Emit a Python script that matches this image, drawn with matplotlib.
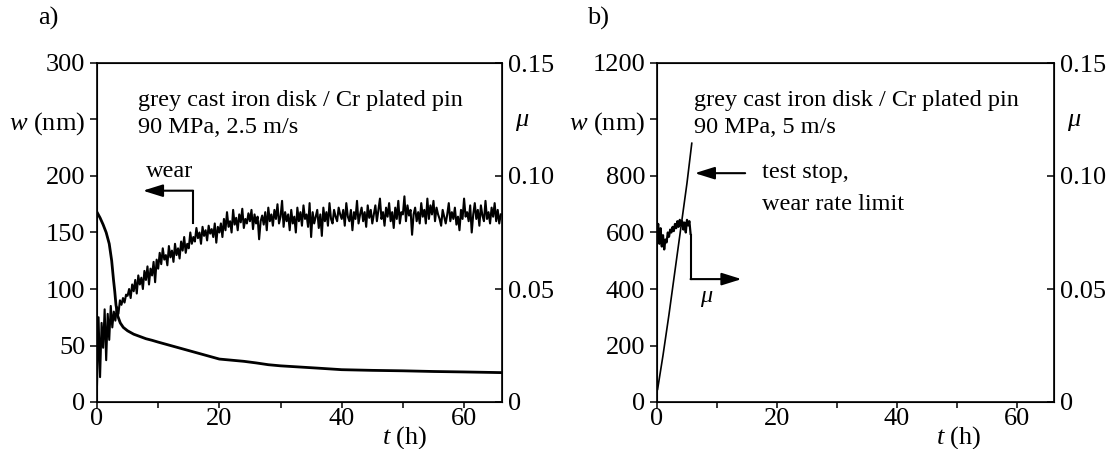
import numpy as np
import matplotlib
matplotlib.use("Agg")
import matplotlib.pyplot as plt

plt.rcParams['font.family'] = ['Liberation Serif', 'DejaVu Serif']
plt.rcParams['mathtext.fontset'] = 'custom'
plt.rcParams['mathtext.rm'] = 'Liberation Serif'
plt.rcParams['mathtext.it'] = 'Liberation Serif:italic'
plt.rcParams['font.size'] = 17.5
plt.rcParams['xtick.labelsize'] = 19
plt.rcParams['ytick.labelsize'] = 19

# DATA - panel a (2.5 m/s), wear read every 0.25 h
t_wear_a = np.arange(0, 66.01, 0.25)
wear_a = [
    15, 75, 22, 70, 48, 82, 37, 78, 55, 85, 66, 80, 72, 84, 78, 90, 86, 92, 88, 95,
    94, 100, 92, 104, 98, 108, 96, 112, 104, 110, 100, 116, 108, 120, 104, 118, 112, 124, 106, 126,
    118, 132, 122, 136, 126, 130, 121, 138, 128, 134, 124, 140, 130, 136, 127, 142, 134, 146, 132, 140,
    136, 150, 140, 146, 142, 154, 145, 150, 140, 155, 147, 152, 143, 156, 149, 153, 146, 158, 141, 155,
    150, 158, 146, 162, 152, 168, 155, 160, 150, 170, 157, 163, 152, 166, 159, 171, 154, 162, 158, 167,
    160, 170, 153, 166, 158, 164, 144, 160, 165, 157, 168, 152, 172, 160, 166, 156, 170, 162, 175, 158,
    164, 178, 155, 168, 160, 166, 152, 170, 158, 164, 150, 172, 160, 168, 156, 174, 162, 166, 155, 176,
    146, 168, 158, 164, 170, 154, 166, 147, 172, 160, 168, 156, 176, 162, 158, 170, 164, 160, 172, 166,
    162, 170, 156, 176, 164, 160, 170, 152, 168, 162, 178, 158, 166, 172, 160, 168, 155, 174, 163, 170,
    158, 166, 174, 160, 170, 180, 162, 168, 156, 172, 164, 176, 160, 168, 154, 172, 162, 178, 158, 168,
    166, 182, 160, 174, 165, 170, 148, 166, 172, 160, 168, 158, 176, 164, 170, 158, 180, 162, 174, 166,
    178, 160, 172, 166, 162, 156, 170, 164, 158, 166, 176, 160, 168, 162, 172, 157, 164, 152, 170, 162,
    180, 164, 168, 160, 174, 150, 166, 176, 162, 170, 156, 174, 165, 160, 178, 162, 168, 158, 172, 164,
    176, 160, 170, 158, 166,
]

t_mu_a = [0, 0.5, 1.0, 1.5, 2.0, 2.4, 2.7, 2.9, 3.1, 3.4, 3.8, 4.3, 5, 6, 7, 8, 9,
          10, 12, 14, 16, 18, 20, 22, 24, 26, 28, 30, 33, 36, 40, 45, 50, 55, 60, 66.2]
mu_a = [0.084, 0.0815, 0.0785, 0.075, 0.070, 0.0625, 0.054, 0.049, 0.043, 0.038,
        0.035, 0.033, 0.0315, 0.030, 0.029, 0.028, 0.0273, 0.0265, 0.025, 0.0235,
        0.022, 0.0205, 0.019, 0.0185, 0.018, 0.0173, 0.0165, 0.016, 0.0155, 0.015,
        0.0143, 0.014, 0.0138, 0.0135, 0.0133, 0.013]

# DATA - panel b (5 m/s), test stopped at ~5.8 h
t_wear_b = [0.1, 1, 2, 3, 4, 5, 5.8]
wear_b = [45, 165, 310, 465, 620, 775, 916]

t_mu_b = np.arange(0, 5.61, 0.2)
mu_b = [0.075, 0.0788, 0.070, 0.0769, 0.0688, 0.0738, 0.0675, 0.0719, 0.0706, 0.075,
        0.0731, 0.0763, 0.075, 0.0775, 0.0756, 0.0788, 0.0769, 0.080, 0.0775, 0.0806,
        0.0781, 0.080, 0.0763, 0.0794, 0.075, 0.0806, 0.0781, 0.080, 0.0744]

xticks = [0, 20, 40, 60]
mu_ticks = [0, 0.05, 0.10, 0.15]
mu_labels = ['0', '0.05', '0.10', '0.15']

W, H = 1115, 449
fig = plt.figure(figsize=(W / 100, H / 100), dpi=100)

arrow = dict(arrowstyle='-|>,head_length=0.8,head_width=0.25', color='black',
             lw=1.5, shrinkA=0, shrinkB=0, mutation_scale=15)


def setup(ax, ymax, ystep, wlabel_at):
    ax.set_xlim(0, 66.2)
    ax.set_ylim(0, ymax)
    ax.set_xticks(xticks)
    ax.set_xticks([10, 30, 50], minor=True)
    yt = list(range(0, ymax + 1, ystep))
    ax.set_yticks(yt)
    ax.set_yticklabels(['$w$ (nm)' if v == wlabel_at else str(v) for v in yt])
    ax.tick_params(axis='x', which='both', direction='out', length=4, width=1.1, pad=0.5)
    ax.tick_params(axis='y', direction='out', length=5, width=1.1, pad=3.5)
    for s in ax.spines.values():
        s.set_linewidth(1.2)
    ax.text(0.76, -0.105, '$t$ (h)', transform=ax.transAxes, ha='center', va='center',
            fontsize=19)
    tw = ax.twinx()
    tw.set_ylim(0, 0.15)
    tw.set_yticks(mu_ticks)
    tw.set_yticklabels(mu_labels)
    tw.tick_params(axis='y', direction='in', length=5, width=1.1, pad=4.5)
    tw.text(1.032, 0.833, 'μ', transform=tw.transAxes, ha='left', va='center',
            fontstyle='italic', fontsize=19)
    return tw


# panel a
axa = fig.add_axes([97 / W, 1 - 402 / H, 405 / W, 339 / H])
twa = setup(axa, 300, 50, 250)
axa.plot(t_wear_a, wear_a, color='black', lw=1.5)
twa.plot(t_mu_a, mu_a, color='black', lw=2.0)
axa.text(0.10, 0.89, 'grey cast iron disk / Cr plated pin', transform=axa.transAxes,
         ha='left', va='center')
axa.text(0.10, 0.81, '90 MPa, 2.5 m/s', transform=axa.transAxes, ha='left', va='center')
axa.text(11.9, 204, 'wear', ha='center', va='center')
axa.plot([15.7, 15.7], [158, 187], color='black', lw=1.5)
axa.annotate('', xy=(7.5, 187), xytext=(15.7, 187), arrowprops=arrow)

# panel b
axb = fig.add_axes([657 / W, 1 - 402 / H, 397 / W, 339 / H])
twb = setup(axb, 1200, 200, 1000)
axb.plot(t_wear_b, wear_b, color='black', lw=1.2)
twb.plot(t_mu_b, mu_b, color='black', lw=1.6)
axb.text(0.093, 0.89, 'grey cast iron disk / Cr plated pin', transform=axb.transAxes,
         ha='left', va='center')
axb.text(0.093, 0.81, '90 MPa, 5 m/s', transform=axb.transAxes, ha='left', va='center')
axb.annotate('', xy=(6.3, 810), xytext=(14.7, 810), arrowprops=arrow)
axb.text(17.5, 812, 'test stop,', ha='left', va='center')
axb.text(17.5, 700, 'wear rate limit', ha='left', va='center')
axb.plot([5.6, 5.6], [591, 435], color='black', lw=1.5)
axb.annotate('', xy=(14.1, 435), xytext=(5.6, 435), arrowprops=arrow)
axb.text(8.2, 372, 'μ', ha='center', va='center', fontstyle='italic')

fig.text(38 / W, 1 - 18 / H, 'a)', ha='left', va='center', fontsize=19)
fig.text(587 / W, 1 - 18 / H, 'b)', ha='left', va='center', fontsize=19)

fig.savefig('out.png', dpi=100)
